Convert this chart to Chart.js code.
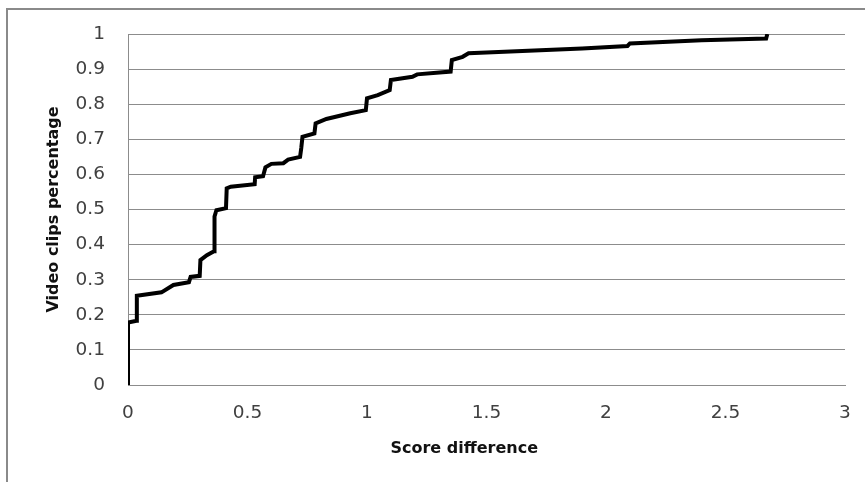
<!DOCTYPE html>
<html>
<head>
<meta charset="utf-8">
<script src="https://cdn.jsdelivr.net/npm/chart.js@4/dist/chart.umd.min.js"></script>
<style>
html,body{margin:0;padding:0;background:#fff;}
#wrap{width:865px;height:482px;position:relative;}
</style>
</head>
<body>
<div id="wrap"><canvas id="c" width="865" height="482"></canvas></div>
<script>
// Score difference (x) and cumulative fraction of video clips (y)
const scoreDiff = [0, 0, 0.036, 0.037, 0.14, 0.19, 0.255, 0.262, 0.30, 0.303, 0.33, 0.36, 0.362, 0.37, 0.41, 0.413, 0.43, 0.53, 0.532, 0.565, 0.575, 0.60, 0.65, 0.67, 0.72, 0.725, 0.73, 0.78, 0.785, 0.83, 0.93, 0.995, 1.0, 1.045, 1.095, 1.10, 1.19, 1.21, 1.35, 1.355, 1.40, 1.425, 1.50, 1.70, 1.90, 2.09, 2.10, 2.40, 2.67, 2.675];
const clipPct   = [0, 0.178, 0.183, 0.254, 0.264, 0.285, 0.293, 0.308, 0.311, 0.356, 0.370, 0.381, 0.480, 0.498, 0.504, 0.560, 0.565, 0.572, 0.592, 0.595, 0.620, 0.630, 0.632, 0.642, 0.650, 0.675, 0.707, 0.717, 0.745, 0.758, 0.774, 0.783, 0.817, 0.826, 0.840, 0.869, 0.878, 0.885, 0.893, 0.926, 0.935, 0.945, 0.947, 0.953, 0.959, 0.966, 0.973, 0.982, 0.987, 1.0];
const xTicks = [0, 0.5, 1, 1.5, 2, 2.5, 3];
const yTicks = [0, 0.1, 0.2, 0.3, 0.4, 0.5, 0.6, 0.7, 0.8, 0.9, 1];
const xTitle = 'Score difference';
const yTitle = 'Video clips percentage';

const points = scoreDiff.map((x, i) => ({x: x, y: clipPct[i]}));

const frame = {
  id: 'frame',
  beforeDraw(chart) {
    const ctx = chart.ctx;
    ctx.save();
    ctx.fillStyle = '#fff';
    ctx.fillRect(0, 0, chart.width, chart.height);
    ctx.strokeStyle = '#8a8a8a';
    ctx.lineWidth = 2;
    ctx.beginPath();
    ctx.moveTo(7, 482);
    ctx.lineTo(7, 9);
    ctx.lineTo(865, 9);
    ctx.stroke();
    ctx.restore();
  }
};

new Chart(document.getElementById('c'), {
  type: 'scatter',
  data: {
    datasets: [{
      data: points,
      showLine: true,
      borderColor: '#000',
      borderWidth: 4,
      pointRadius: 0,
      tension: 0,
      fill: false
    }]
  },
  options: {
    responsive: false,
    animation: false,
    devicePixelRatio: 1,
    layout: {padding: {top: 34, right: 20, bottom: 0, left: 0}},
    plugins: {legend: {display: false}, tooltip: {enabled: false}},
    scales: {
      x: {
        type: 'linear', min: 0, max: 3,
        afterBuildTicks(s) { s.ticks = xTicks.map(v => ({value: v})); },
        afterFit(s) { s.height = 97; s.paddingLeft = 0; s.paddingRight = 0; },
        grid: {display: false, drawTicks: false},
        border: {display: true, color: '#8c8c8c', width: 1},
        ticks: {padding: 17, color: '#404040', font: {family: 'DejaVu Sans', size: 18.5}, maxRotation: 0,
                callback: v => String(v)},
        title: {display: true, text: xTitle + '        ', color: '#111',
                font: {family: 'DejaVu Sans', size: 16, weight: 'bold'}, padding: {top: 0, bottom: 24}}
      },
      y: {
        type: 'linear', min: 0, max: 1,
        afterBuildTicks(s) { s.ticks = yTicks.map(v => ({value: v})); },
        afterFit(s) { s.width = 128; s.paddingTop = 0; s.paddingBottom = 0; },
        grid: {display: true, color: '#8c8c8c', lineWidth: 1, drawTicks: false},
        border: {display: true, color: '#8c8c8c', width: 1},
        ticks: {padding: 23, color: '#404040', font: {family: 'DejaVu Sans', size: 18.5},
                callback: v => String(v)},
        title: {display: true, text: yTitle, color: '#111',
                font: {family: 'DejaVu Sans', size: 16, weight: 'bold'}, padding: {top: 44, bottom: 0}}
      }
    }
  },
  plugins: [frame]
});
</script>
</body>
</html>
